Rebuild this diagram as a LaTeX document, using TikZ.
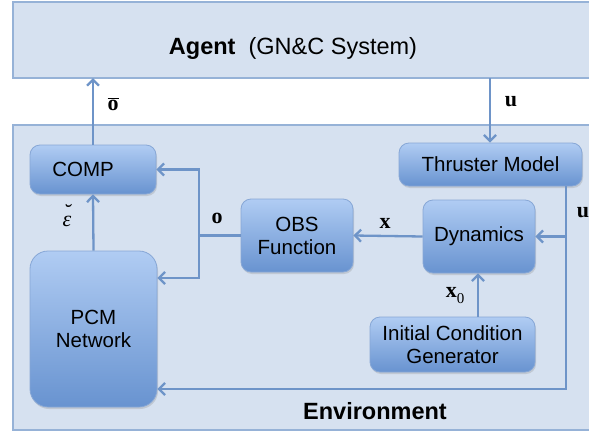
\documentclass[tikz,border=0pt]{standalone}
\usepackage[no-math]{fontspec}
\setmainfont{Liberation Sans}
\newfontfamily\lserif{Liberation Serif}
\usetikzlibrary{arrows.meta,shadows}
\definecolor{bgfill}{RGB}{214,225,240}
\definecolor{bgdraw}{RGB}{150,178,215}
\definecolor{boxtop}{RGB}{176,204,243}
\definecolor{boxbot}{RGB}{104,147,208}
\definecolor{boxdraw}{RGB}{135,167,214}
\definecolor{linec}{RGB}{110,148,200}
\tikzset{
  panel/.style={fill=bgfill, draw=bgdraw, line width=1.5pt},
  blk/.style={rounded corners=10pt, top color=boxtop, bottom color=boxbot, draw=boxdraw, line width=0.8pt,
     drop shadow={opacity=0.25, shadow xshift=1pt, shadow yshift=-2pt},
     font=\fontsize{20.5}{23}\selectfont, align=center, inner sep=0pt},
  conn/.style={draw=linec, line width=2.3pt, -{Straight Barb[length=6pt,width=12pt,line width=2.3pt]}},
  line/.style={draw=linec, line width=2.3pt},
  lab/.style={font=\fontsize{22}{24}\selectfont\lserif\bfseries, inner sep=0pt},
  head/.style={font=\fontsize{23.5}{28}\selectfont, inner sep=0pt}
}
\begin{document}
\begin{tikzpicture}[x=1pt,y=-1pt]
\useasboundingbox (0,0) rectangle (589,434);
% panels
\path[panel] (13,2) rectangle (600,78);
\path[panel] (13,125) rectangle (600,430);
\node[head] (agent) at (293,48) {\textbf{Agent}~~(GN\&C System)};
\node[head] (env) at (375,411) {\textbf{Environment}};
% blocks
\node[blk, minimum width=126pt, minimum height=49pt] (comp) at (93,169.5) {COMP\hspace*{20pt}};
\node[blk, rounded corners=18pt, minimum width=127pt, minimum height=156pt] (pcm) at (93.5,329) {PCM\\Network};
\node[blk, minimum width=112pt, minimum height=73pt] (obs) at (297,235.5) {OBS\\Function};
\node[blk, minimum width=112pt, minimum height=73pt] (dyn) at (479,236.5) {Dynamics};
\node[blk, minimum width=183pt, minimum height=43pt] (thr) at (490.5,164.5) {Thruster Model};
\node[blk, minimum width=165pt, minimum height=55pt] (icg) at (452.5,344.5) {Initial Condition\\Generator};
% coordinates
\coordinate (agentbot) at (93,78);
\coordinate (agentbotr) at (490,78);
\coordinate (osplit) at (199,235.5);
\coordinate (utop) at (566,186);
\coordinate (ubot) at (566,389);
% connectors
\draw[conn] (comp.north) -- (agentbot);
\draw[conn] (agentbotr) -- (agentbotr |- thr.north);
\draw[conn] (pcm.north) -- (comp.south);
\draw[line] (obs.west) -- (osplit);
\draw[conn] (osplit) |- (comp.east);
\draw[conn] (osplit) |- (pcm.east |- 0,278);
\draw[conn] (dyn.west) -- (obs.east);
\draw[conn] (utop) |- (pcm.east |- ubot);
\draw[conn] (utop |- dyn.east) -- (dyn.east);
\draw[conn] (icg.north -| 478,0) -- (dyn.south -| 478,0);
% labels
\node[lab] (lob) at (113,104) {$\overline{\hbox{\lserif\bfseries o}}$};
\node[lab, align=center, font=\fontsize{22}{24}\selectfont\lserif\itshape] (leps) at (67,216) {\char"02D8\\[-17pt]ε};
\node[lab] (lo) at (217,218) {o};
\node[lab] (lx) at (385,223) {x};
\node[lab] (lu1) at (511,102) {u};
\node[lab] (lu2) at (583,213) {u};
\node[lab] (lx0) at (455,296) {x\raisebox{-6pt}{\fontsize{15}{15}\selectfont\mdseries 0}};
\end{tikzpicture}
\end{document}
